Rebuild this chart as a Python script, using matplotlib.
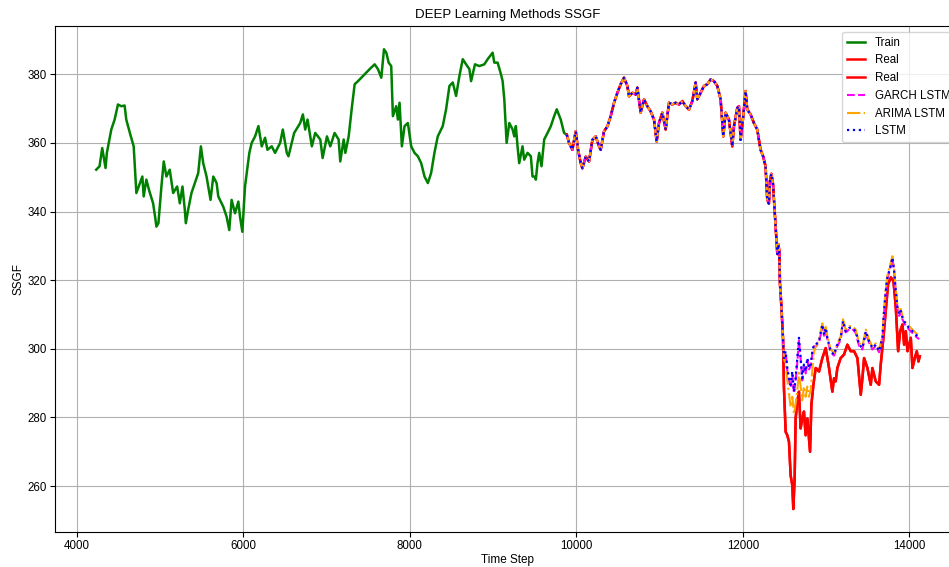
import matplotlib
matplotlib.use("Agg")
import matplotlib.pyplot as plt

plt.rcParams['font.family'] = ['Liberation Sans', 'DejaVu Sans']

# training segment (green)
train_steps = [4233, 4273, 4305, 4345, 4361, 4414, 4454, 4494, 4534, 4574, 4594, 4643, 4683, 4715,
               4787, 4803, 4835, 4867, 4916, 4940, 4956, 4980, 5016, 5044, 5076, 5116, 5157, 5205,
               5237, 5269, 5297, 5309, 5337, 5377, 5418, 5458, 5490, 5518, 5558, 5606, 5639, 5679,
               5699, 5759, 5799, 5831, 5859, 5900, 5940, 5960, 5988, 6020, 6072, 6100, 6141, 6181,
               6221, 6261, 6289, 6341, 6381, 6442, 6474, 6522, 6542, 6610, 6683, 6715, 6743, 6771,
               6823, 6863, 6924, 6952, 7004, 7044, 7096, 7144, 7164, 7205, 7225, 7265, 7305, 7337,
               7377, 7437, 7477, 7517, 7577, 7617, 7657, 7689, 7717, 7745, 7776, 7796, 7836, 7856,
               7876, 7904, 7936, 7976, 8016, 8056, 8096, 8136, 8176, 8216, 8255, 8295, 8335, 8395,
               8435, 8475, 8515, 8555, 8595, 8635, 8675, 8715, 8735, 8754, 8782, 8834, 8894, 8934,
               8994, 9014, 9054, 9094, 9114, 9134, 9162, 9194, 9234, 9254, 9273, 9293, 9313, 9353,
               9373, 9413, 9453, 9473, 9501, 9513, 9533, 9553, 9581, 9613, 9653, 9693, 9733, 9764,
               9812, 9852, 9884]
train_vals = [352.2, 353.2, 358.5, 352.7, 357.1, 363.9, 366.8, 371.2, 370.7, 370.9, 366.8, 362.4, 359.0, 345.4,
              350.2, 344.4, 349.3, 346.3, 342.4, 338.5, 335.6, 336.6, 347.3, 354.6, 350.2, 352.2, 345.4, 347.3,
              342.4, 347.3, 340.5, 336.6, 340.5, 345.4, 348.3, 351.2, 359.0, 354.1, 350.2, 343.4, 350.2, 348.3,
              344.4, 341.4, 338.5, 334.6, 343.4, 339.5, 342.9, 338.5, 334.1, 347.3, 357.1, 360.0, 361.9, 364.9,
              359.0, 361.5, 358.0, 359.0, 357.1, 360.0, 363.9, 357.1, 356.1, 362.9, 365.8, 368.3, 363.9, 366.8,
              359.0, 362.9, 361.0, 355.6, 361.9, 359.0, 362.9, 361.0, 354.6, 361.0, 357.1, 361.9, 370.7, 377.1,
              378.0, 379.5, 380.5, 381.5, 382.9, 381.5, 379.0, 387.3, 386.3, 383.4, 382.4, 367.8, 370.7, 366.8,
              371.7, 359.0, 364.9, 365.8, 359.0, 357.1, 356.1, 354.1, 350.2, 348.3, 351.2, 357.1, 361.9, 364.9,
              369.8, 376.6, 377.6, 373.7, 379.5, 384.4, 382.9, 381.5, 378.0, 380.0, 382.9, 382.4, 382.9, 384.4,
              386.3, 383.4, 383.4, 380.0, 378.0, 372.7, 360.0, 365.8, 363.9, 361.9, 364.9, 359.0, 354.1, 359.0,
              355.1, 357.1, 356.1, 350.2, 350.2, 349.3, 354.1, 357.1, 353.2, 361.0, 362.9, 364.9, 367.8, 369.8,
              366.8, 362.9, 362.4]

# test segment before the crash, where real and forecasts overlap
upper_steps = [9884, 9912, 9952, 9992, 10020, 10052, 10072, 10112, 10152, 10192, 10232, 10272, 10292,
               10332, 10372, 10412, 10452, 10492, 10532, 10572, 10612, 10632, 10672, 10712, 10732, 10772,
               10812, 10852, 10892, 10932, 10964, 10992, 11032, 11072, 11112, 11152, 11192, 11232, 11272,
               11312, 11352, 11392, 11432, 11452, 11492, 11532, 11572, 11612, 11652, 11692, 11732, 11764,
               11792, 11832, 11872, 11892, 11932, 11952, 11972, 12004, 12032, 12052, 12092, 12132, 12172,
               12212, 12244, 12272, 12292, 12312, 12325, 12341, 12361, 12381, 12401, 12413, 12425, 12437,
               12445, 12453, 12465, 12481]
upper_vals = [362.4, 360.0, 358.0, 363.4, 358.0, 354.1, 352.6, 356.0, 354.6, 360.9, 361.9, 359.0, 358.0,
              363.4, 364.8, 367.8, 371.7, 374.6, 377.1, 379.0, 376.6, 373.6, 374.6, 374.1, 376.1, 368.8,
              372.7, 370.7, 369.2, 366.8, 360.4, 365.8, 368.8, 363.9, 371.7, 371.2, 371.7, 371.2, 372.2,
              370.7, 369.7, 372.2, 377.6, 372.7, 374.6, 376.6, 377.1, 378.5, 378.0, 376.6, 372.7, 361.9,
              368.8, 366.8, 359.0, 364.8, 370.2, 370.7, 360.9, 367.8, 375.1, 369.7, 368.3, 365.8, 363.9,
              358.0, 356.0, 353.1, 343.5, 342.3, 349.0, 351.0, 348.1, 340.3, 332.5, 327.6, 330.5, 328.6,
              318.8, 315.9, 311.0, 303.2]

# real values after the crash
real_tail_steps = [12493, 12513, 12533, 12553, 12573, 12593, 12605, 12621, 12633, 12653, 12673, 12693, 12713,
                   12733, 12753, 12774, 12806, 12822, 12846, 12874, 12914, 12954, 12994, 13034, 13074, 13094,
                   13114, 13134, 13174, 13214, 13254, 13294, 13335, 13375, 13415, 13435, 13455, 13495, 13535,
                   13555, 13595, 13635, 13655, 13687, 13715, 13743, 13776, 13808, 13836, 13864, 13888, 13916,
                   13936, 13956, 13976, 14016, 14036, 14064, 14088, 14108, 14124]
real_tail = [288.4, 275.8, 274.8, 272.9, 263.1, 260.2, 253.3, 262.1, 279.7, 284.6, 287.5, 276.8, 279.7,
             281.7, 274.8, 279.7, 270.0, 283.6, 289.5, 294.4, 293.4, 297.3, 300.2, 294.4, 287.5, 291.4,
             290.5, 294.4, 297.3, 298.3, 301.2, 299.3, 299.3, 297.3, 286.6, 291.4, 297.3, 294.4, 289.5,
             294.4, 290.5, 289.5, 295.4, 303.2, 311.0, 318.8, 320.8, 319.8, 312.0, 299.3, 305.1, 307.1,
             301.2, 305.1, 299.3, 303.2, 294.4, 297.3, 299.3, 296.3, 297.8]

# forecasts after the crash
tail_steps = [12493, 12513, 12533, 12553, 12573, 12593, 12613, 12633, 12653, 12673, 12693, 12713, 12733,
              12753, 12774, 12794, 12814, 12834, 12854, 12874, 12914, 12954, 12974, 12994, 13014, 13054,
              13094, 13134, 13174, 13202, 13234, 13275, 13315, 13355, 13395, 13435, 13475, 13515, 13555,
              13595, 13635, 13675, 13695, 13715, 13735, 13768, 13796, 13816, 13836, 13856, 13876, 13896,
              13916, 13936, 13956, 13996, 14036, 14076, 14116]
lstm_tail = [297.3, 299.3, 294.4, 291.4, 289.5, 293.4, 287.5, 291.4, 297.3, 303.2, 297.3, 291.4, 295.4,
             293.4, 297.3, 294.4, 295.4, 299.3, 301.2, 301.2, 302.2, 307.1, 304.1, 306.1, 303.2, 299.3,
             298.3, 301.2, 303.2, 308.1, 305.1, 306.1, 306.1, 305.1, 301.2, 300.2, 305.1, 302.2, 300.2,
             301.2, 299.3, 303.2, 311.0, 316.8, 320.8, 323.7, 326.6, 322.7, 316.8, 312.0, 310.0, 311.0,
             309.0, 308.1, 307.1, 306.1, 305.1, 304.1, 303.2]
garch_tail = [296.5, 298.8, 293.6, 290.6, 288.7, 292.5, 287.0, 290.8, 296.0, 302.4, 297.0, 290.8, 294.6,
              292.8, 296.6, 294.0, 295.0, 298.6, 300.8, 300.6, 301.8, 306.4, 303.8, 305.6, 302.8, 299.0,
              298.0, 300.8, 302.6, 307.6, 304.8, 305.6, 305.8, 304.6, 300.8, 299.8, 304.6, 301.8, 299.8,
              300.8, 299.0, 302.6, 310.4, 316.2, 320.4, 323.4, 326.2, 322.2, 316.4, 311.6, 309.6, 310.6,
              308.6, 307.6, 306.6, 305.6, 304.6, 303.6, 302.8]
arima_tail = [297.0, 296.0, 291.0, 287.0, 283.0, 286.0, 281.0, 284.0, 288.0, 293.0, 289.0, 285.0, 289.0,
              286.0, 289.0, 286.0, 288.0, 294.0, 299.0, 300.8, 302.6, 307.4, 304.6, 306.4, 303.6, 299.8,
              298.8, 301.6, 303.6, 308.6, 305.6, 306.6, 306.6, 305.6, 301.8, 300.6, 305.6, 302.6, 300.6,
              301.6, 299.8, 303.6, 311.6, 317.4, 321.4, 324.4, 327.0, 323.2, 317.4, 312.6, 310.6, 311.6,
              309.6, 308.6, 307.6, 306.6, 305.6, 304.6, 303.8]

real_steps = upper_steps + real_tail_steps
real_vals = upper_vals + real_tail
pred_steps = upper_steps + tail_steps

fig = plt.figure(figsize=(9.49, 5.67), dpi=100)
# right edge of the axes runs past the figure, as in the cropped original
ax = fig.add_axes([0.058, 0.0617, 0.9546, 0.892])

ax.plot(train_steps, train_vals, color='green', lw=1.8, label='Train')
ax.plot(real_steps, real_vals, color='red', lw=1.8, label='Real')
ax.plot(real_steps, real_vals, color='red', lw=1.8, label='Real')
ax.plot(pred_steps, upper_vals + garch_tail, color='magenta', linestyle='--', lw=1.5, label='GARCH LSTM')
ax.plot(pred_steps, upper_vals + arima_tail, color='orange', linestyle='-.', lw=1.5, label='ARIMA LSTM')
ax.plot(pred_steps, upper_vals + lstm_tail, color='blue', linestyle=':', lw=1.6, label='LSTM')

ax.set_title('DEEP Learning Methods SSGF', fontsize=9.5)
ax.set_xlabel('Time Step', fontsize=8.5, labelpad=1)
ax.set_ylabel('SSGF', fontsize=8.5, labelpad=2)
ax.tick_params(labelsize=8.3, pad=2.5)
ax.grid(True)
ax.legend(loc='upper right', fontsize=8.3, handlelength=1.6)

fig.savefig('out.png', dpi=100)
